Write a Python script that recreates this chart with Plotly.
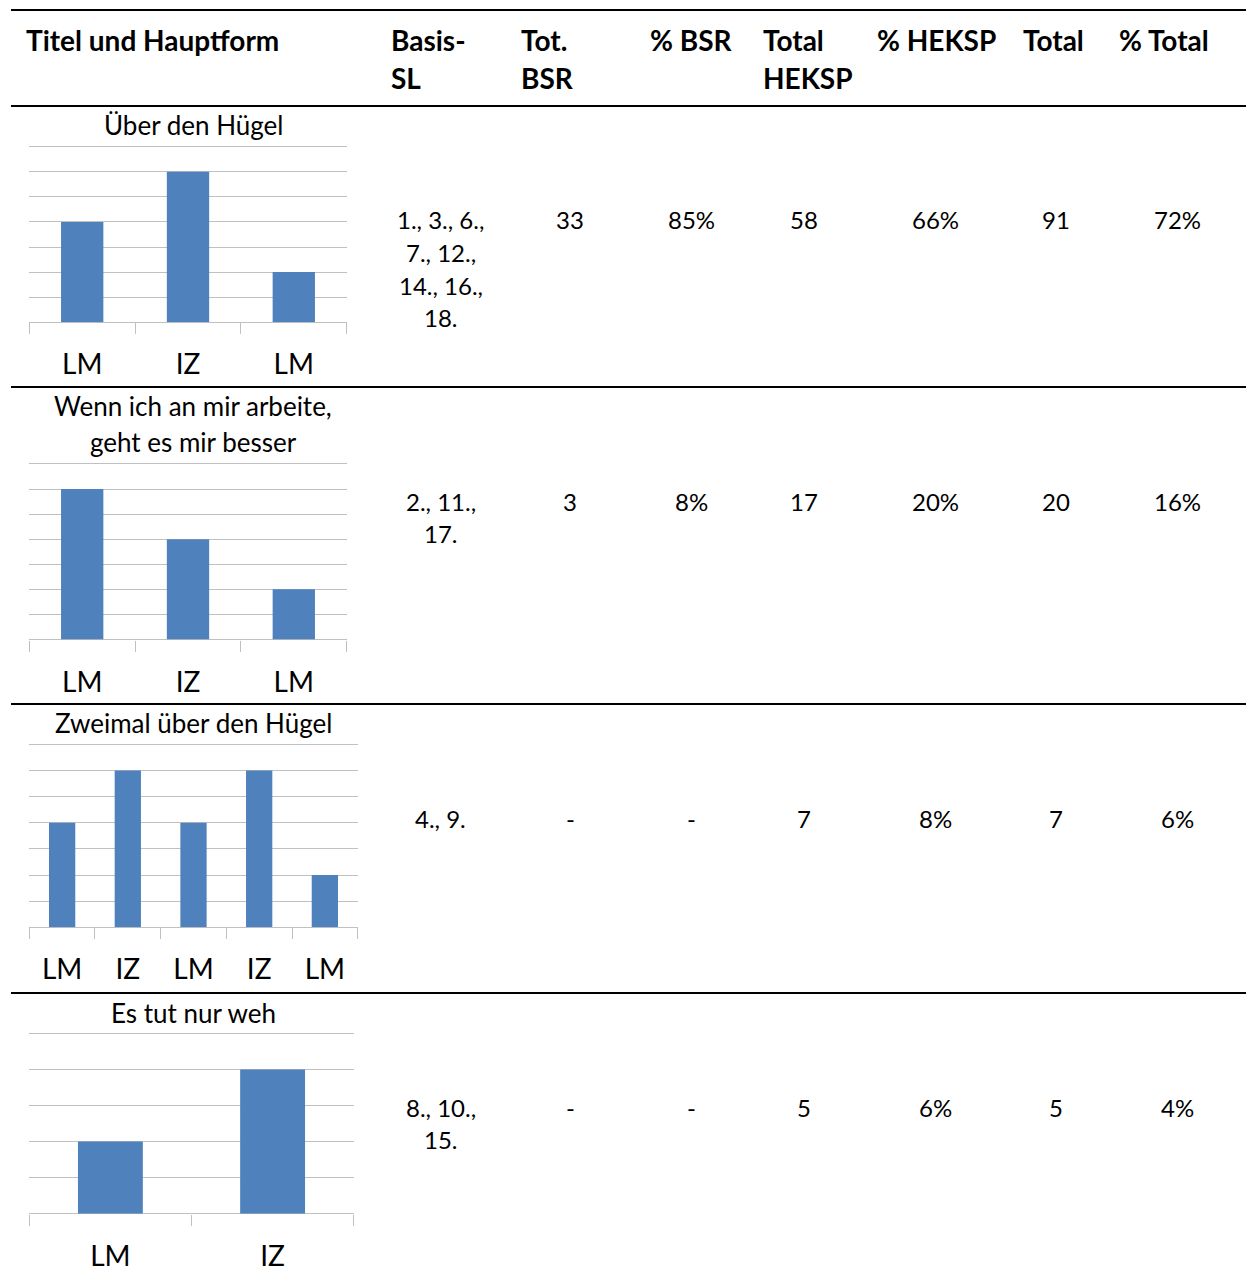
import plotly.graph_objects as go

W, H = 1246, 1272
FONT = "Lato"
BAR_COLOR = "#4F81BD"
GRID = "#c0c0c0"

# ---- data -------------------------------------------------------------
headers = [
    ["Titel und Hauptform"],
    ["Basis-", "SL"],
    ["Tot.", "BSR"],
    ["% BSR"],
    ["Total", "HEKSP"],
    ["% HEKSP"],
    ["Total"],
    ["% Total"],
]

chart_titles = [
    ["Über den Hügel"],
    ["Wenn ich an mir arbeite,", "geht es mir besser"],
    ["Zweimal über den Hügel"],
    ["Es tut nur weh"],
]
chart_labels = [
    ["LM", "IZ", "LM"],
    ["LM", "IZ", "LM"],
    ["LM", "IZ", "LM", "IZ", "LM"],
    ["LM", "IZ"],
]
chart_values = [
    [4, 6, 2],
    [6, 4, 2],
    [4, 6, 4, 6, 2],
    [2, 4],
]
chart_ymax = [7, 7, 7, 5]

basis_sl = [
    ["1., 3., 6.,", "7., 12.,", "14., 16.,", "18."],
    ["2., 11.,", "17."],
    ["4., 9."],
    ["8., 10.,", "15."],
]
tot_bsr = ["33", "3", "-", "-"]
pct_bsr = ["85%", "8%", "-", "-"]
total_heksp = ["58", "17", "7", "5"]
pct_heksp = ["66%", "20%", "8%", "6%"]
total_all = ["91", "20", "7", "5"]
pct_total = ["72%", "16%", "6%", "4%"]

# ---- layout geometry (pixels) ----------------------------------------
header_x = [24, 389, 519, 648, 761, 875, 1021, 1117]
header_y = [40, 78]
rule_y = [10, 106, 387, 704, 993]
col_centers = [441, 570, 691, 804, 935, 1056, 1177]
row_first_y = [220, 501, 818, 1107]
line_step = 32.5

chart_x = [(29.3, 346.7), (29.3, 346.7), (29.3, 357.7), (29.3, 353.7)]
chart_y = [(322.3, 146.7), (639.5, 464.0), (927.3, 744.3), (1213.7, 1033.3)]
title_first_y = [125, 406, 723, 1013]
title_step = 36
headroom = 0.06  # a little extra range so the top gridline is kept


def px(x):
    return x / W


def py(y):
    return 1 - y / H


fig = go.Figure()
annotations = []
shapes = []

for i in range(4):
    n = len(chart_values[i])
    xs = list(range(n))
    suffix = "" if i == 0 else str(i + 1)
    fig.add_trace(go.Bar(
        x=xs, y=chart_values[i], width=0.4,
        marker=dict(color=BAR_COLOR, line=dict(width=0)),
        xaxis="x" + suffix, yaxis="y" + suffix, showlegend=False,
        hoverinfo="skip",
    ))
    x0, x1 = chart_x[i]
    yb, yt = chart_y[i]
    unit = (yb - yt) / chart_ymax[i]
    yt_ext = yt - headroom * unit
    fig.layout["xaxis" + suffix] = dict(
        domain=[px(x0), px(x1)], anchor="y" + suffix,
        range=[-0.5, n - 0.5], tickvals=xs, ticktext=chart_labels[i],
        ticks="", showgrid=False, zeroline=False, showline=False,
        tickfont=dict(family=FONT, size=28, color="#000000"),
        ticklabelstandoff=23,
        minor=dict(tickvals=[k - 0.5 for k in range(n + 1)], ticks="outside",
                   ticklen=11, tickcolor=GRID, tickwidth=1, showgrid=False),
        fixedrange=True,
    )
    fig.layout["yaxis" + suffix] = dict(
        domain=[py(yb), py(yt_ext)], anchor="x" + suffix,
        range=[0, chart_ymax[i] + headroom], dtick=1, showticklabels=False,
        showgrid=True, gridcolor=GRID, gridwidth=1,
        zeroline=True, zerolinecolor=GRID, zerolinewidth=1,
        showline=False, ticks="", fixedrange=True,
    )
    for j, line in enumerate(chart_titles[i]):
        annotations.append(dict(
            text=line, x=px(193), y=py(title_first_y[i] + j * title_step),
            xref="paper", yref="paper", xanchor="center", yanchor="middle",
            showarrow=False, font=dict(family=FONT, size=26, color="#000000"),
        ))

# table rules
for y in rule_y:
    shapes.append(dict(type="line", xref="paper", yref="paper",
                       x0=px(11), x1=1, y0=py(y), y1=py(y),
                       line=dict(color="#000000", width=2)))

# header cells
for k, lines in enumerate(headers):
    for j, line in enumerate(lines):
        annotations.append(dict(
            text="<b>%s</b>" % line, x=px(header_x[k]), y=py(header_y[j]),
            xref="paper", yref="paper", xanchor="left", yanchor="middle",
            showarrow=False, font=dict(family=FONT, size=28, color="#000000"),
        ))

# body cells
columns = [basis_sl, tot_bsr, pct_bsr, total_heksp, pct_heksp, total_all, pct_total]
for c, col in enumerate(columns):
    for r in range(4):
        cell = col[r]
        lines = cell if isinstance(cell, list) else [cell]
        for j, line in enumerate(lines):
            annotations.append(dict(
                text=line, x=px(col_centers[c]), y=py(row_first_y[r] + j * line_step),
                xref="paper", yref="paper", xanchor="center", yanchor="middle",
                showarrow=False, font=dict(family=FONT, size=24, color="#000000"),
            ))

fig.update_layout(
    width=W, height=H, margin=dict(l=0, r=0, t=0, b=0),
    paper_bgcolor="#ffffff", plot_bgcolor="#ffffff",
    annotations=annotations, shapes=shapes, bargap=0.6,
)

fig.write_html("out.html", config={"displayModeBar": False})
